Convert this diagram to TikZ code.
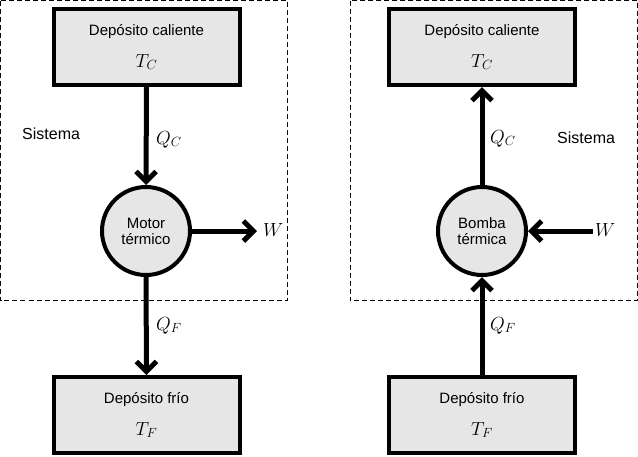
\documentclass[tikz,border=0pt]{standalone}
\usepackage{fix-cm}
\usepackage{fontspec}
\setmainfont{Liberation Sans}
\usetikzlibrary{arrows.meta}
\definecolor{boxgray}{HTML}{E6E6E6}
\begin{document}
\begin{tikzpicture}[x=1pt,y=-1pt,
  reservoir/.style={draw, line width=4pt, fill=boxgray, minimum width=186pt, minimum height=76pt, inner sep=0pt},
  machine/.style={draw, circle, line width=4pt, fill=boxgray, minimum size=88pt, inner sep=0pt, align=center, font=\fontsize{15}{16}\selectfont},
  flow/.style={line width=5pt, -{Straight Barb[length=10pt,width=20pt]}},
  sysbox/.style={draw, line width=1pt, dash pattern=on 5pt off 3pt},
  txt/.style={inner sep=0pt, font=\fontsize{15}{18}\selectfont},
  systxt/.style={inner sep=0pt, font=\fontsize{16}{18}\selectfont},
  mth/.style={inner sep=0pt, font=\fontsize{19}{22}\selectfont}]
\useasboundingbox (0,0) rectangle (638,456);
% system boundaries
\draw[sysbox] (0.5,0.5) rectangle (287,300.5);
\draw[sysbox] (350,0.5) rectangle (637.5,300.5);
% ---------- left: heat engine ----------
\node[reservoir] (hotL) at (146.5,47) {};
\node[txt, anchor=base] (hotLtxt) at (146.5,35) {Depósito caliente};
\node[mth, anchor=base] (hotLT) at (146.5,67) {$T_C$};
\node[machine] (engL) at (146,231) {Motor\\térmico};
\node[reservoir] (coldL) at (146.5,415) {};
\node[txt, anchor=base] (coldLtxt) at (146.5,403) {Depósito frío};
\node[mth, anchor=base] (coldLT) at (146.5,435) {$T_F$};
\node[systxt, anchor=base west] (sysL) at (22,139) {Sistema};
\node[mth, anchor=base west] (QCL) at (156,144) {$Q_C$};
\node[mth, anchor=base west] (QFL) at (156,330) {$Q_F$};
\node[mth, anchor=base west] (WL) at (263,236) {$W$};
\draw[flow] (hotL.south) -- (engL.north);
\draw[flow] (engL.south) -- (coldL.north);
\draw[flow, shorten >=6pt] (engL.east) -- (engL.east -| WL.west);
% ---------- right: heat pump ----------
\node[reservoir] (hotR) at (482,47) {};
\node[txt, anchor=base] (hotRtxt) at (482,35) {Depósito caliente};
\node[mth, anchor=base] (hotRT) at (482,67) {$T_C$};
\node[machine] (engR) at (482,231) {Bomba\\térmica};
\node[reservoir] (coldR) at (482,415) {};
\node[txt, anchor=base] (coldRtxt) at (482,403) {Depósito frío};
\node[mth, anchor=base] (coldRT) at (482,435) {$T_F$};
\node[systxt, anchor=base west] (sysR) at (557,143) {Sistema};
\node[mth, anchor=base west] (QCR) at (490,143) {$Q_C$};
\node[mth, anchor=base west] (QFR) at (490,330) {$Q_F$};
\node[mth, anchor=base west] (WR) at (595,236) {$W$};
\draw[flow] (engR.north) -- (hotR.south);
\draw[flow] (coldR.north) -- (engR.south);
\draw[flow, shorten <=2pt] (engR.east -| WR.west) -- (engR.east);
\end{tikzpicture}
\end{document}
